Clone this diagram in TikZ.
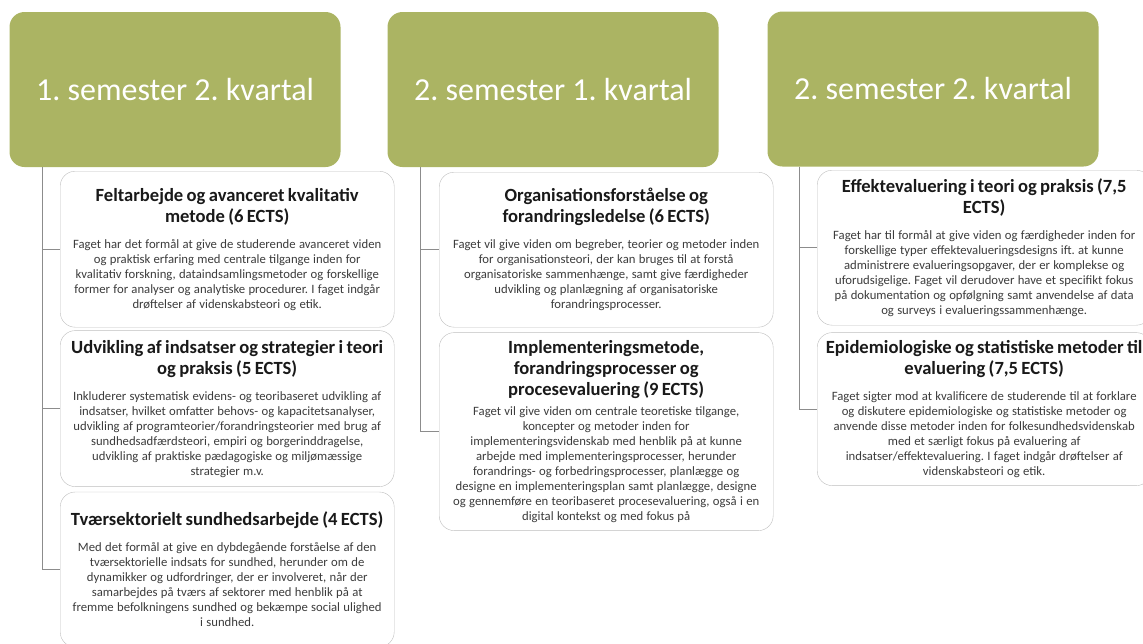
\documentclass[tikz,border=0pt]{standalone}
\usepackage{fontspec}
\setmainfont{Carlito}
\usetikzlibrary{positioning}
\frenchspacing

\definecolor{olivengroen}{RGB}{171,180,99}
\definecolor{kantgraa}{RGB}{190,190,190}
\definecolor{stammegraa}{RGB}{140,140,140}
\definecolor{brodtekst}{RGB}{60,60,60}

\newcommand{\fagtitel}[2][11pt]{{\color{black!90}\fontsize{18.6}{21}\selectfont\bfseries #2\par}\vspace{#1}}
\newcommand{\fagtekst}[1]{{\color{brodtekst}\fontsize{12.7}{15}\selectfont #1\par}}

\begin{document}
\begin{tikzpicture}[x=1pt,y=-1pt,
    semester/.style={fill=olivengroen,rounded corners=15pt,minimum width=331pt,
      minimum height=155pt,text=white,font=\fontsize{32}{38}\selectfont},
    kursus/.style={draw=kantgraa,fill=white,rounded corners=15pt,minimum width=334pt,
      minimum height=155pt,text width=334pt,align=center,inner xsep=0pt,inner ysep=2pt},
    stamme/.style={draw=stammegraa,line width=0.8pt}]
  \useasboundingbox (0,0) rectangle (1143,643);
  \clip (0,0) rectangle (1143,643);

  % overskrifter
  \node[semester] (h1) at (175,89.5) {1. semester 2. kvartal};
  \node[semester] (h2) at (553,89.5) {2. semester 1. kvartal};
  \node[semester] (h3) at (933,89) {2. semester 2. kvartal};

  % 1. semester 2. kvartal
  \node[kursus,anchor=north west,minimum height=156pt] (l1) at (60,171) {%
    \fagtitel{Feltarbejde og avanceret kvalitativ\\metode (6 ECTS)}%
    \fagtekst{Faget har det formål at give de studerende avanceret viden\\og praktisk erfaring med centrale tilgange inden for\\kvalitativ forskning, dataindsamlingsmetoder og forskellige\\former for analyser og analytiske procedurer. I faget indgår\\drøftelser af videnskabsteori og etik.}};
  \node[kursus,below=3pt of l1,minimum height=156pt] (l2) {%
    \fagtitel{Udvikling af indsatser og strategier i teori\\og praksis (5 ECTS)}%
    \fagtekst{Inkluderer systematisk evidens- og teoribaseret udvikling af\\indsatser, hvilket omfatter behovs- og kapacitetsanalyser,\\udvikling af programteorier/forandringsteorier med brug af\\sundhedsadfærdsteori, empiri og borgerinddragelse,\\udvikling af praktiske pædagogiske og miljømæssige\\strategier m.v.}};
  \node[kursus,below=5pt of l2] (l3) {%
    \fagtitel{Tværsektorielt sundhedsarbejde (4 ECTS)}%
    \fagtekst{Med det formål at give en dybdegående forståelse af den\\tværsektorielle indsats for sundhed, herunder om de\\dynamikker og udfordringer, der er involveret, når der\\samarbejdes på tværs af sektorer med henblik på at\\fremme befolkningens sundhed og bekæmpe social ulighed\\i sundhed.}};

  % 2. semester 1. kvartal
  \node[kursus,anchor=north west] (m1) at (439,172) {%
    \fagtitel{Organisationsforståelse og\\forandringsledelse (6 ECTS)}%
    \fagtekst{Faget vil give viden om begreber, teorier og metoder inden\\for organisationsteori, der kan bruges til at forstå\\organisatoriske sammenhænge, samt give færdigheder\\udvikling og planlægning af organisatoriske\\forandringsprocesser.}};
  \node[kursus,below=5pt of m1,minimum height=198pt] (m2) {%
    \fagtitel[5pt]{Implementeringsmetode,\\forandringsprocesser og\\procesevaluering (9 ECTS)}%
    \fagtekst{Faget vil give viden om centrale teoretiske tilgange,\\koncepter og metoder inden for\\implementeringsvidenskab med henblik på at kunne\\arbejde med implementeringsprocesser, herunder\\forandrings- og forbedringsprocesser, planlægge og\\designe en implementeringsplan samt planlægge, designe\\og gennemføre en teoribaseret procesevaluering, også i en\\digital kontekst og med fokus på}};

  % 2. semester 2. kvartal
  \node[kursus,anchor=north west] (r1) at (817,170) {%
    \fagtitel{Effektevaluering i teori og praksis (7,5\\ECTS)}%
    \fagtekst{Faget har til formål at give viden og færdigheder inden for\\forskellige typer effektevalueringsdesigns ift. at kunne\\administrere evalueringsopgaver, der er komplekse og\\uforudsigelige. Faget vil derudover have et specifikt fokus\\på dokumentation og opfølgning samt anvendelse af data\\og surveys i evalueringssammenhænge.}};
  \node[kursus,below=7pt of r1,minimum height=153pt] (r2) {%
    \fagtitel{Epidemiologiske og statistiske metoder til\\evaluering (7,5 ECTS)}%
    \fagtekst{Faget sigter mod at kvalificere de studerende til at forklare\\og diskutere epidemiologiske og statistiske metoder og\\anvende disse metoder inden for folkesundhedsvidenskab\\med et særligt fokus på evaluering af\\indsatser/effektevaluering. I faget indgår drøftelser af\\videnskabsteori og etik.}};

  % stammer og grene
  \coordinate (s1) at ([xshift=33pt]h1.south west);
  \coordinate (s2) at ([xshift=33pt]h2.south west);
  \coordinate (s3) at ([xshift=32pt]h3.south west);
  \draw[stamme] (s1) |- (l3.west);
  \draw[stamme] (s2) |- (m2.west);
  \draw[stamme] (s3) |- (r2.west);
  \draw[stamme] (l1.west -| s1) -- (l1.west);
  \draw[stamme] (l2.west -| s1) -- (l2.west);
  \draw[stamme] (m1.west -| s2) -- (m1.west);
  \draw[stamme] (r1.west -| s3) -- (r1.west);
\end{tikzpicture}
\end{document}
